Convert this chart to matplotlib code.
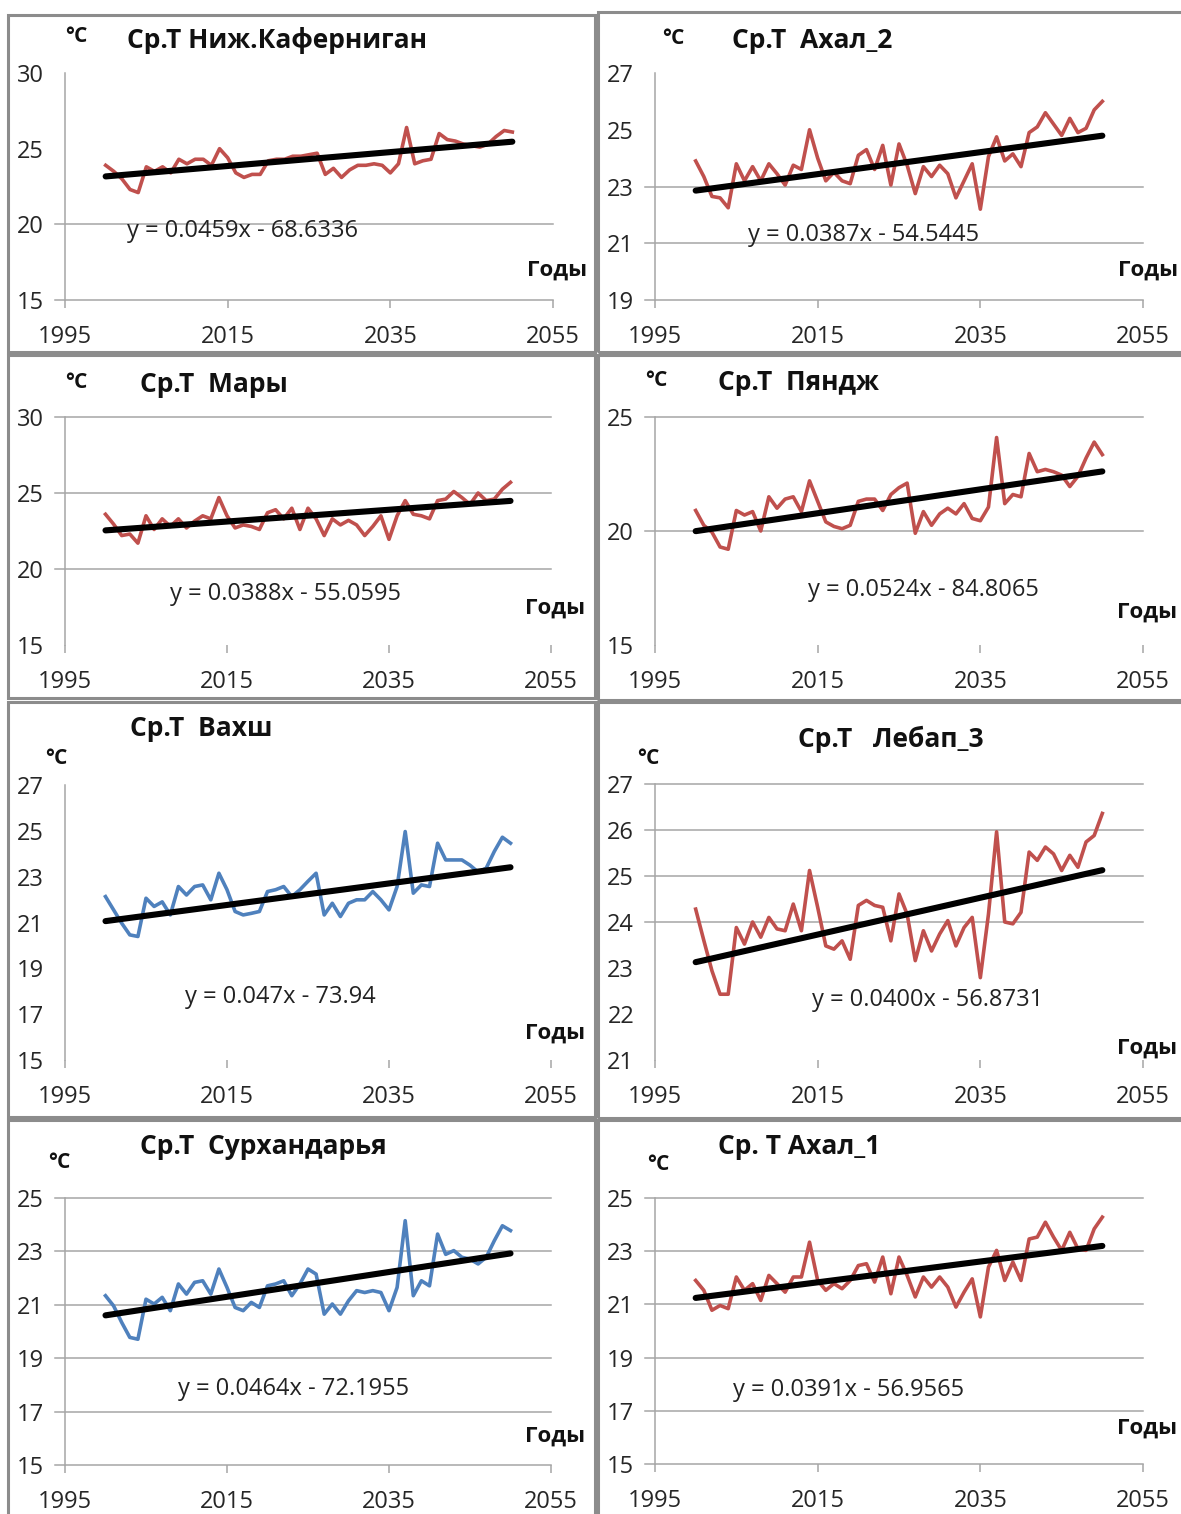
import numpy as np
import matplotlib.pyplot as plt
from matplotlib.patches import Rectangle

plt.rcParams['font.family'] = ['Open Sans', 'DejaVu Sans']

W, H = 1181, 1514

years = np.arange(2000, 2051)

# mean annual temperature
t_kafernigan = [23.9, 23.5, 23.0, 22.3, 22.1, 23.8, 23.5, 23.8, 23.4, 24.3,
                24.0, 24.3, 24.3, 23.9, 25.0, 24.4, 23.4, 23.1, 23.3, 23.3,
                24.2, 24.3, 24.3, 24.5, 24.5, 24.6, 24.7, 23.3, 23.7, 23.1,
                23.6, 23.9, 23.9, 24.0, 23.9, 23.4, 24.0, 26.4, 24.0, 24.2,
                24.3, 26.0, 25.6, 25.5, 25.3, 25.2, 25.1, 25.3, 25.8, 26.2, 26.1]
t_akhal2 = [23.9, 23.35, 22.65, 22.6, 22.25, 23.8, 23.2, 23.7, 23.2, 23.8,
            23.45, 23.05, 23.75, 23.6, 25.0, 24.0, 23.2, 23.5, 23.2, 23.1,
            24.1, 24.3, 23.6, 24.45, 23.05, 24.5, 23.75, 22.75, 23.7, 23.35,
            23.75, 23.45, 22.6, 23.2, 23.8, 22.2, 24.05, 24.75, 23.9, 24.15,
            23.7, 24.9, 25.1, 25.6, 25.2, 24.8, 25.4, 24.9, 25.05, 25.7, 26.0]
t_mary = [23.6, 22.95, 22.2, 22.3, 21.7, 23.5, 22.6, 23.3, 22.8, 23.3,
          22.7, 23.15, 23.5, 23.3, 24.7, 23.5, 22.7, 22.9, 22.8, 22.6,
          23.7, 23.9, 23.3, 24.0, 22.6, 24.0, 23.3, 22.2, 23.3, 22.9,
          23.2, 22.9, 22.2, 22.8, 23.5, 21.95, 23.5, 24.5, 23.6, 23.5,
          23.3, 24.5, 24.6, 25.1, 24.7, 24.25, 25.0, 24.5, 24.6, 25.25, 25.7]
t_pyandzh = [20.9, 20.25, 19.95, 19.3, 19.2, 20.9, 20.7, 20.85, 20.0, 21.5,
             21.0, 21.4, 21.5, 20.85, 22.2, 21.3, 20.4, 20.2, 20.1, 20.25,
             21.3, 21.4, 21.4, 20.9, 21.6, 21.9, 22.1, 19.9, 20.85, 20.25,
             20.75, 21.0, 20.75, 21.2, 20.55, 20.45, 21.05, 24.1, 21.2, 21.6,
             21.5, 23.4, 22.6, 22.7, 22.6, 22.45, 21.95, 22.4, 23.2, 23.9, 23.35]
t_vakhsh = [22.13, 21.55, 20.97, 20.46, 20.39, 22.06, 21.7, 21.9, 21.33, 22.57,
            22.2, 22.57, 22.64, 21.99, 23.15, 22.43, 21.48, 21.33, 21.4, 21.48,
            22.35, 22.43, 22.57, 22.13, 22.43, 22.8, 23.15, 21.33, 21.84, 21.26,
            21.84, 21.99, 21.99, 22.35, 21.99, 21.55, 22.57, 24.97, 22.28, 22.64,
            22.57, 24.46, 23.73, 23.73, 23.73, 23.5, 23.2, 23.37, 24.1, 24.72, 24.46]
t_lebap3 = [24.28, 23.6, 22.94, 22.43, 22.43, 23.88, 23.52, 24.0, 23.67, 24.1,
            23.85, 23.81, 24.39, 23.81, 25.12, 24.32, 23.48, 23.41, 23.59, 23.19,
            24.36, 24.47, 24.36, 24.32, 23.59, 24.61, 24.17, 23.16, 23.81, 23.37,
            23.74, 24.03, 23.48, 23.88, 24.1, 22.79, 24.17, 25.96, 24.0, 23.96,
            24.21, 25.52, 25.34, 25.63, 25.48, 25.12, 25.45, 25.19, 25.74, 25.88, 26.36]
t_surkhan = [21.34, 20.96, 20.34, 19.78, 19.71, 21.21, 21.03, 21.28, 20.78, 21.78,
             21.4, 21.84, 21.9, 21.4, 22.34, 21.65, 20.9, 20.78, 21.09, 20.9,
             21.71, 21.78, 21.9, 21.34, 21.78, 22.34, 22.15, 20.65, 21.03, 20.65,
             21.15, 21.53, 21.46, 21.53, 21.46, 20.78, 21.65, 24.15, 21.34, 21.9,
             21.71, 23.65, 22.89, 23.03, 22.78, 22.71, 22.53, 22.78, 23.4, 23.96, 23.78]
t_akhal1 = [21.9, 21.53, 20.78, 20.96, 20.84, 22.03, 21.53, 21.78, 21.15, 22.09,
            21.78, 21.46, 22.03, 22.03, 23.34, 21.9, 21.53, 21.78, 21.59, 21.9,
            22.46, 22.53, 21.84, 22.78, 21.4, 22.78, 22.09, 21.28, 22.03, 21.65,
            22.03, 21.65, 20.9, 21.46, 21.96, 20.53, 22.4, 23.03, 21.9, 22.59,
            21.9, 23.46, 23.53, 24.09, 23.53, 23.03, 23.71, 23.09, 23.03, 23.84, 24.28]

titles = ['Ср.Т Ниж.Каферниган', 'Ср.Т  Ахал_2', 'Ср.Т  Мары', 'Ср.Т  Пяндж',
          'Ср.Т  Вахш', 'Ср.Т   Лебап_3', 'Ср.Т  Сурхандарья', 'Ср. Т Ахал_1']
equations = ['y = 0.0459x - 68.6336', 'y = 0.0387x - 54.5445',
             'y = 0.0388x - 55.0595', 'y = 0.0524x - 84.8065',
             'y = 0.047x - 73.94', 'y = 0.0400x - 56.8731',
             'y = 0.0464x - 72.1955', 'y = 0.0391x - 56.9565']
# trend coefficients (Вахш intercept taken from the drawn line)
slopes = [0.0459, 0.0387, 0.0388, 0.0524, 0.047, 0.0400, 0.0464, 0.0391]
intercepts = [-68.6336, -54.5445, -55.0595, -84.8065, -72.94, -56.8731, -72.1955, -56.9565]
yticks = [[15, 20, 25, 30], [19, 21, 23, 25, 27], [15, 20, 25, 30], [15, 20, 25],
          [15, 17, 19, 21, 23, 25, 27], [21, 22, 23, 24, 25, 26, 27],
          [15, 17, 19, 21, 23, 25], [15, 17, 19, 21, 23, 25]]
xticks = [1995, 2015, 2035, 2055]
series = [t_kafernigan, t_akhal2, t_mary, t_pyandzh, t_vakhsh, t_lebap3, t_surkhan, t_akhal1]

RED = '#c0504d'
BLUE = '#4f81bd'
colors = [RED, RED, RED, RED, BLUE, RED, BLUE, RED]

# layout in pixels: plot box, panel frame, visible gridlines, text anchors
plot_box = [(65, 73, 553, 300), (655, 73, 1143, 300),
            (65, 417, 551, 645), (655, 417, 1143, 645),
            (65, 785, 551, 1060), (655, 784, 1143, 1060),
            (65, 1198, 551, 1465), (655, 1198, 1143, 1464)]
frames = [(8, 15, 595, 352), (598, 12, 1190, 352),
          (8, 355, 595, 698), (598, 355, 1190, 700),
          (8, 702, 595, 1117), (598, 702, 1190, 1118),
          (8, 1120, 595, 1525), (598, 1120, 1190, 1525)]
grids = [[15, 20], [19, 21, 23], [20, 25, 30], [20, 25], [], [24, 25, 26, 27],
         [15, 17, 19, 21, 23, 25], [15, 17, 19, 21, 23, 25]]
title_pos = [(127, 41), (732, 41), (140, 385), (718, 383),
             (130, 729), (798, 739), (140, 1147), (718, 1147)]
deg_pos = [(65, 37), (662, 38), (65, 382), (645, 380),
           (45, 758), (637, 758), (48, 1162), (647, 1165)]
eq_pos = [(127, 231), (748, 235), (170, 594), (808, 590),
          (185, 997), (812, 1000), (178, 1389), (733, 1390)]
god_pos = [(527, 270), (1118, 270), (525, 608), (1117, 612),
           (525, 1033), (1117, 1048), (525, 1436), (1117, 1428)]

fig = plt.figure(figsize=(W / 100, H / 100), dpi=100)


def ftext(p, s, **kw):
    fig.text(p[0] / W, 1 - p[1] / H, s, ha='left', va='center', **kw)


for i in range(8):
    x0, y0, x1, y1 = frames[i]
    fig.add_artist(Rectangle((x0 / W, 1 - y1 / H), (x1 - x0) / W, (y1 - y0) / H,
                             transform=fig.transFigure, fill=False,
                             edgecolor='#8c8c8c', lw=2.2))

    x0, y0, x1, y1 = plot_box[i]
    ax = fig.add_axes([x0 / W, 1 - y1 / H, (x1 - x0) / W, (y1 - y0) / H])
    ax.set_xlim(1995, 2055)
    ax.set_ylim(yticks[i][0], yticks[i][-1])

    for g in grids[i]:
        ax.plot([-0.02, 1], [g, g], transform=ax.get_yaxis_transform(),
                color='#a6a6a6', lw=1.1, clip_on=False, zorder=1)

    ax.plot(years, series[i], color=colors[i], lw=2.6, zorder=3)
    trend = slopes[i] * years + intercepts[i]
    ax.plot(years[[0, -1]], trend[[0, -1]], color='black', lw=4.4,
            solid_capstyle='round', zorder=4)

    ax.set_xticks(xticks)
    ax.set_yticks(yticks[i])
    ax.tick_params(axis='x', direction='out', length=6, width=1.1,
                   color='#a6a6a6', pad=12, labelsize=17, labelcolor='#262626')
    ax.tick_params(axis='y', length=0, pad=15, labelsize=17, labelcolor='#262626')
    for side in ['top', 'right', 'bottom']:
        ax.spines[side].set_visible(False)
    ax.spines['left'].set_color('#a6a6a6')
    ax.spines['left'].set_linewidth(1.1)
    ax.patch.set_alpha(0)

    ftext(title_pos[i], titles[i], fontsize=19, fontweight='bold', color='#111111')
    ftext(deg_pos[i], '°C', fontsize=15, fontweight='bold', color='#111111')
    ftext(eq_pos[i], equations[i], fontsize=17, color='#222222')
    ftext(god_pos[i], 'Годы', fontsize=16, fontweight='bold', color='#111111')

fig.savefig('out.png', dpi=100, facecolor='white')
